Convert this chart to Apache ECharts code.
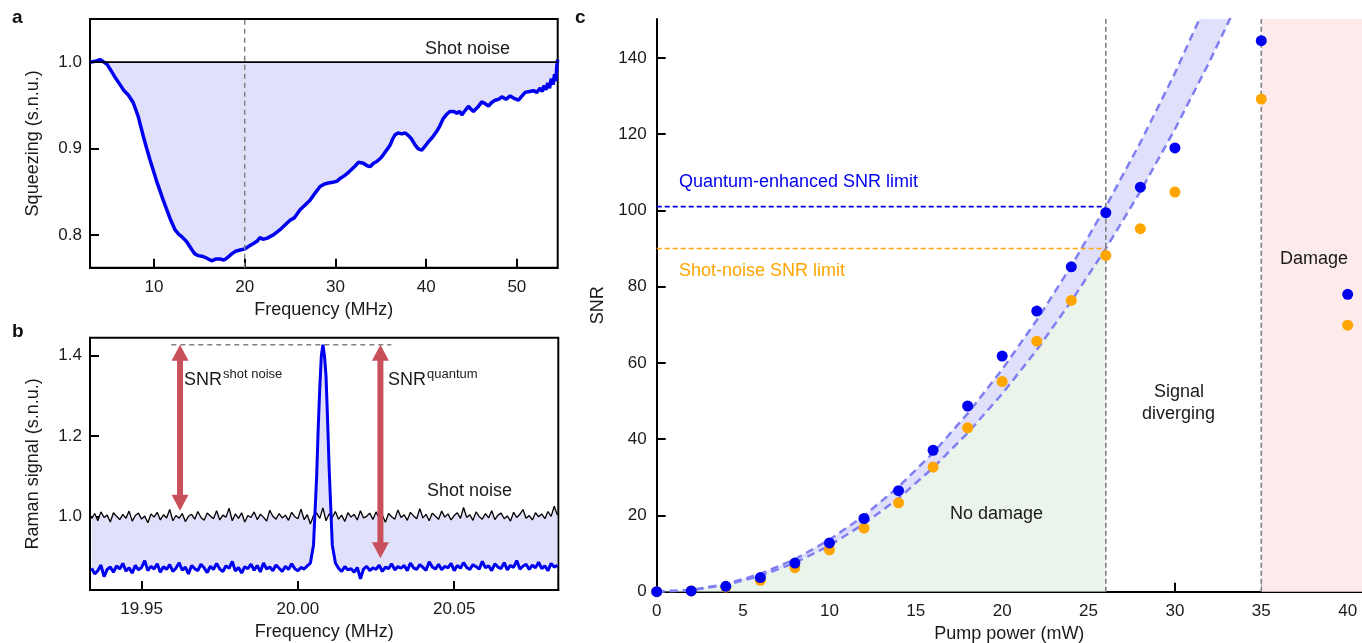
<!DOCTYPE html>
<html>
<head>
<meta charset="utf-8">
<script src="https://cdn.jsdelivr.net/npm/echarts@6/dist/echarts.min.js"></script>
<style>
  html, body { margin: 0; padding: 0; background: #fff; }
  #chart { width: 1362px; height: 643px; }
</style>
</head>
<body>
<div id="chart"></div>
<script>
// ---------- Panel a: squeezing spectrum ----------
const sqzFreq = [2.95,3.5,4.05,4.5,4.8,5.34,5.8,6.26,6.7,7.17,7.72,8.27,8.83,9.2,9.56,10.3,11.03,11.77,12.32,12.7,
  13.06,13.61,14.16,14.5,14.89,15.4,15.82,16.36,16.8,17.28,17.7,18.02,18.57,19.0,19.3,19.7,20.04,20.5,20.96,21.4,
  21.69,22.0,22.43,23.16,23.9,24.5,25.0,25.5,26.1,26.6,27.2,27.8,28.31,28.8,29.22,29.7,30.15,30.6,31.06,31.5,
  31.8,32.2,32.53,33.08,33.5,33.82,34.2,34.56,35.0,35.29,35.7,36.03,36.3,36.58,36.9,37.32,37.7,38.05,38.4,38.79,
  39.1,39.52,39.9,40.26,40.7,41.17,41.5,41.9,42.3,42.64,43.0,43.38,43.7,43.93,44.3,44.66,44.9,45.21,45.7,46.13,
  46.5,46.87,47.2,47.6,48.0,48.34,48.8,49.26,49.7,50.18,50.5,50.91,51.4,51.83,52.2,52.57,52.8,53.0,53.2,53.4,
  53.6,53.8,54.0,54.15,54.3,54.4,54.5];
const sqzVal = [1.000,1.001,1.003,1.000,0.998,0.989,0.981,0.974,0.967,0.962,0.953,0.937,0.914,0.900,0.887,0.862,0.840,0.819,0.806,0.801,
  0.798,0.792,0.783,0.778,0.776,0.775,0.773,0.770,0.772,0.772,0.771,0.773,0.778,0.781,0.782,0.783,0.784,0.787,0.790,0.793,
  0.797,0.795,0.796,0.800,0.806,0.812,0.817,0.820,0.829,0.834,0.840,0.849,0.856,0.859,0.860,0.861,0.862,0.866,0.869,0.873,
  0.876,0.880,0.884,0.883,0.880,0.879,0.883,0.885,0.889,0.893,0.899,0.904,0.911,0.916,0.918,0.917,0.918,0.915,0.911,0.904,
  0.900,0.898,0.903,0.908,0.913,0.920,0.926,0.935,0.940,0.943,0.943,0.941,0.943,0.939,0.944,0.949,0.946,0.943,0.948,0.954,
  0.952,0.949,0.953,0.956,0.957,0.960,0.957,0.961,0.958,0.956,0.960,0.965,0.966,0.967,0.965,0.970,0.966,0.973,0.968,0.976,
  0.970,0.981,0.974,0.986,0.978,0.995,1.003];
const sqzMarkerFreq = 20;
const shotNoiseLevel = 1.0;
const sqzTicksX = [10, 20, 30, 40, 50];
const sqzTicksY = [0.8, 0.9, 1.0];

// ---------- Panel b: Raman spectra ----------
const ramanStart = 19.934;   // MHz, first sample
const ramanStep = 0.001;     // MHz between samples
const shotNoiseTrace = [
  0.995,1.008,0.990,1.012,0.998,1.004,0.987,1.010,1.001,0.993,
  1.006,0.996,1.014,0.989,1.003,1.009,0.994,1.002,0.985,1.007,
  0.999,1.011,0.992,1.005,0.997,1.018,0.990,1.003,0.996,1.008,
  0.988,1.001,1.006,0.994,1.013,0.998,0.991,1.009,1.002,0.995,
  1.015,0.992,1.004,0.999,1.021,0.990,1.007,0.996,1.010,0.987,
  1.003,0.998,1.012,0.993,1.006,0.999,0.989,1.016,1.001,0.994,
  1.008,0.997,1.004,0.991,1.011,1.000,0.995,1.019,0.993,1.005,
  0.982,1.003,1.009,0.996,1.022,0.990,1.007,0.998,1.013,0.994,
  1.004,0.988,1.010,0.999,1.006,0.992,1.015,0.997,1.001,1.009,
  0.993,1.012,0.996,1.004,0.986,1.008,1.000,0.994,1.017,0.998,
  1.005,0.991,1.011,1.002,0.995,1.020,0.997,1.006,0.990,1.009,
  1.001,0.994,1.014,0.999,1.007,0.992,1.003,1.010,0.996,1.023,
  0.998,1.005,0.991,1.012,1.000,0.994,1.008,0.997,1.015,0.993,
  1.004,1.009,0.995,1.002,0.989,1.011,0.998,1.006,1.018,0.996,
  1.003,0.992,1.010,1.000,1.007,0.995,1.013,1.001,1.026,1.004];
const squeezedTrace = [
  0.872,0.858,0.866,0.880,0.851,0.869,0.875,0.862,0.878,0.870,
  0.884,0.865,0.873,0.860,0.879,0.868,0.874,0.891,0.866,0.877,
  0.870,0.883,0.862,0.876,0.869,0.881,0.864,0.872,0.886,0.867,
  0.875,0.858,0.879,0.871,0.866,0.882,0.873,0.861,0.877,0.869,
  0.884,0.870,0.864,0.878,0.872,0.889,0.865,0.874,0.860,0.876,
  0.871,0.882,0.867,0.879,0.863,0.885,0.870,0.875,0.866,0.880,
  0.872,0.864,0.877,0.869,0.883,0.871,0.866,0.874,0.870,0.878,
  0.885,0.930,1.100,1.320,1.427,1.350,1.120,0.930,0.885,0.872,
  0.864,0.876,0.868,0.871,0.862,0.874,0.846,0.870,0.877,0.866,
  0.873,0.869,0.880,0.864,0.875,0.871,0.883,0.868,0.876,0.872,
  0.879,0.866,0.885,0.873,0.869,0.881,0.874,0.867,0.888,0.875,
  0.870,0.882,0.868,0.877,0.873,0.884,0.866,0.879,0.872,0.886,
  0.874,0.869,0.881,0.876,0.870,0.889,0.873,0.878,0.866,0.883,
  0.875,0.871,0.886,0.868,0.879,0.874,0.891,0.870,0.877,0.882,
  0.869,0.880,0.873,0.887,0.871,0.878,0.866,0.884,0.875,0.879];
// extra samples across the Raman line
const peakFreq = [20.0065, 20.0075, 20.0085, 20.0095];
const peakVal  = [1.22, 1.40, 1.40, 1.24];
const ramanPeak = 1.427;
const ramanPeakSpan = [19.9595, 20.0299];
// double arrows: [frequency, top, bottom]
const snrArrows = [[19.9623, 1.427, 1.015], [20.0264, 1.427, 0.897]];
const ramanTicksX = [19.95, 20.00, 20.05];
const ramanTicksY = [1.0, 1.2, 1.4];

// ---------- Panel c: SNR vs pump power ----------
const pumpPower   = [0, 2, 4, 6, 8, 10, 12, 14, 16, 18, 20, 22, 24, 26, 28, 30, 35, 40];
const snrQuantum  = [0, 0.2, 1.4, 3.7, 7.5, 12.8, 19.2, 26.5, 37.1, 48.7, 61.8, 73.6, 85.2, 99.4, 106.1, 116.4, 144.5, 78.0];
const snrShot     = [0, 0.2, 1.2, 3.0, 6.3, 11.0, 16.7, 23.3, 32.7, 43.0, 55.1, 65.7, 76.4, 88.2, 95.2, 104.8, 129.2, 69.9];
const fitPower    = [0, 2, 4, 6, 8, 10, 12, 14, 16, 18, 20, 22, 24, 26, 28, 30, 32, 34];
const fitUpper    = [0, 0.46, 1.98, 4.66, 8.5, 13.6, 19.9, 27.5, 36.4, 46.7, 58.3, 71.2, 85.4, 101, 117.8, 136, 156, 177];
const fitLower    = [0, 0.41, 1.77, 4.15, 7.57, 12.1, 17.8, 24.5, 32.5, 41.6, 51.9, 63.4, 76.2, 90, 105, 121.3, 139, 158];
const quantumLimit = 101;
const shotLimit = 90;
const divergePower = 26;
const damagePower = 35;
const pumpTicks = [0, 5, 10, 15, 20, 25, 30, 35, 40];
const snrTicks = [0, 20, 40, 60, 80, 100, 120, 140];

// ---------- styling ----------
const FONT = '"Liberation Sans", Arial, Helvetica, sans-serif';
const INK = '#1a1a1a';
const BLUE = '#0000f0';
const ORANGE = '#ffa500';
const BAND = 'rgb(224,224,250)';
const FITLINE = '#7f7ff2';
const GREEN = 'rgb(234,244,234)';
const PINK = 'rgb(253,234,234)';
const GRAY = '#808080';
const ARROW = '#c8505a';

const pairs = (xs, ys) => xs.map((x, i) => [x, ys[i]]);
const sqzData = pairs(sqzFreq, sqzVal);
const ramanFreq = shotNoiseTrace.map((_, i) => +(ramanStart + i * ramanStep).toFixed(4));
const shotData = pairs(ramanFreq, shotNoiseTrace);
const squeezedData = pairs(ramanFreq, squeezedTrace)
  .concat(pairs(peakFreq, peakVal))
  .sort((p, q) => p[0] - q[0]);
const upperData = pairs(fitPower, fitUpper);
const lowerData = pairs(fitPower, fitLower);
const safeData = lowerData.filter(p => p[0] <= divergePower);

function valueAxis(opts) {
  const base = {
    type: 'value',
    scale: true,
    splitLine: { show: false },
    axisLine: { show: true, onZero: false, lineStyle: { color: '#000', width: 2 } },
    axisTick: { show: true, inside: true, length: 9, lineStyle: { color: '#000', width: 2 } },
    axisLabel: { color: INK, fontSize: 17, fontFamily: FONT, margin: 10 },
    nameTextStyle: { color: INK, fontSize: 18, fontFamily: FONT },
    nameLocation: 'middle'
  };
  return Object.assign(base, opts, {
    axisLabel: Object.assign({}, base.axisLabel, opts.axisLabel || {}),
    axisTick: Object.assign({}, base.axisTick, opts.axisTick || {})
  });
}

function label(text, left, top, size, color, weight) {
  return { type: 'text', left: left, top: top, z: 100,
    style: { text: text, font: (weight ? weight + ' ' : '') + size + 'px ' + FONT, fill: color } };
}

const chart = echarts.init(document.getElementById('chart'), null, { renderer: 'canvas' });

const option = {
  animation: false,
  backgroundColor: '#fff',
  grid: [
    { left: 90, top: 19, width: 467.7, height: 248.7, show: true, borderColor: '#000', borderWidth: 2,
      backgroundColor: 'transparent', outerBoundsMode: 'none' },
    { left: 90, top: 337.7, width: 468.3, height: 252.3, show: true, borderColor: '#000', borderWidth: 2,
      backgroundColor: 'transparent', outerBoundsMode: 'none' },
    { left: 656.7, top: 19, width: 705.3, height: 572.7, show: false, outerBoundsMode: 'none' }
  ],
  xAxis: [
    valueAxis({ gridIndex: 0, min: 2.95, max: 54.5, name: 'Frequency (MHz)', nameGap: 33,
      axisLabel: { customValues: sqzTicksX, margin: 11 }, axisTick: { customValues: sqzTicksX } }),
    valueAxis({ gridIndex: 1, min: 19.9335, max: 20.0833, name: 'Frequency (MHz)', nameGap: 33,
      axisLabel: { customValues: ramanTicksX, margin: 11, formatter: v => v.toFixed(2) }, axisTick: { customValues: ramanTicksX } }),
    valueAxis({ gridIndex: 2, min: 0, max: 40.83, name: 'Pump power (mW)', nameGap: 33,
      axisLabel: { customValues: pumpTicks, margin: 11 }, axisTick: { customValues: pumpTicks } }),
    { type: 'value', gridIndex: 2, position: 'top', min: 0, max: 40.83,
      axisLine: { show: true, lineStyle: { color: '#000', width: 2 } },
      axisTick: { show: false }, axisLabel: { show: false }, splitLine: { show: false } }
  ],
  yAxis: [
    valueAxis({ gridIndex: 0, min: 0.762, max: 1.05, name: 'Squeezing (s.n.u.)', nameGap: 48,
      axisLabel: { customValues: sqzTicksY, margin: 8, formatter: v => v.toFixed(1) }, axisTick: { customValues: sqzTicksY } }),
    valueAxis({ gridIndex: 1, min: 0.818, max: 1.4447, name: 'Raman signal (s.n.u.)', nameGap: 48,
      axisLabel: { customValues: ramanTicksY, margin: 8, formatter: v => v.toFixed(1) }, axisTick: { customValues: ramanTicksY } }),
    valueAxis({ gridIndex: 2, min: 0, max: 150.2, name: 'SNR', nameGap: 39,
      axisLabel: { customValues: snrTicks, margin: 10 }, axisTick: { customValues: snrTicks } })
  ],
  series: [
    // ----- a -----
    { type: 'line', xAxisIndex: 0, yAxisIndex: 0, data: sqzData, symbol: 'none', z: 3,
      lineStyle: { color: BLUE, width: 3.5 }, areaStyle: { color: BAND, opacity: 1, origin: shotNoiseLevel } },
    { type: 'line', xAxisIndex: 0, yAxisIndex: 0, symbol: 'none', z: 4,
      data: [[2.95, shotNoiseLevel], [54.5, shotNoiseLevel]], lineStyle: { color: '#000', width: 1.8 } },
    { type: 'line', xAxisIndex: 0, yAxisIndex: 0, symbol: 'none', z: 5,
      data: [[sqzMarkerFreq, 0.762], [sqzMarkerFreq, 1.05]], lineStyle: { color: GRAY, width: 1.5, type: [5, 4] } },

    // ----- b -----
    { type: 'custom', xAxisIndex: 1, yAxisIndex: 1, clip: true, silent: true, z: 1,
      data: [[20.0, 1.0]],
      renderItem: function (params, api) {
        const pts = squeezedData.map(p => api.coord(p))
          .concat(shotData.slice().reverse().map(p => api.coord(p)));
        return { type: 'polygon', shape: { points: pts }, style: { fill: BAND } };
      } },
    { type: 'line', xAxisIndex: 1, yAxisIndex: 1, data: shotData, symbol: 'none', z: 3,
      lineStyle: { color: '#000', width: 1.3 } },
    { type: 'line', xAxisIndex: 1, yAxisIndex: 1, data: squeezedData, symbol: 'none', z: 4,
      lineStyle: { color: BLUE, width: 3 } },
    { type: 'line', xAxisIndex: 1, yAxisIndex: 1, symbol: 'none', z: 2,
      data: [[ramanPeakSpan[0], ramanPeak], [ramanPeakSpan[1], ramanPeak]],
      lineStyle: { color: GRAY, width: 1.5, type: [5, 4] } },
    { type: 'custom', xAxisIndex: 1, yAxisIndex: 1, silent: true, z: 6,
      data: snrArrows, encode: { x: 0, y: [1, 2] },
      renderItem: function (params, api) {
        const top = api.coord([api.value(0), api.value(1)]);
        const bot = api.coord([api.value(0), api.value(2)]);
        const x = top[0], hw = 8.5, hh = 16, sw = 3;
        return { type: 'group', children: [
          { type: 'rect', shape: { x: x - sw, y: top[1] + hh - 1, width: 2 * sw, height: bot[1] - top[1] - 2 * hh + 2 },
            style: { fill: ARROW } },
          { type: 'polygon', shape: { points: [[x, top[1]], [x - hw, top[1] + hh], [x + hw, top[1] + hh]] },
            style: { fill: ARROW } },
          { type: 'polygon', shape: { points: [[x, bot[1]], [x - hw, bot[1] - hh], [x + hw, bot[1] - hh]] },
            style: { fill: ARROW } }
        ] };
      } },

    // ----- c -----
    { type: 'line', xAxisIndex: 2, yAxisIndex: 2, symbol: 'none', z: 1, data: safeData,
      lineStyle: { width: 0 }, areaStyle: { color: GREEN, opacity: 1 } },
    { type: 'custom', xAxisIndex: 2, yAxisIndex: 2, clip: true, silent: true, z: 2,
      data: [[10, 10]],
      renderItem: function (params, api) {
        const pts = upperData.map(p => api.coord(p))
          .concat(lowerData.slice().reverse().map(p => api.coord(p)));
        return { type: 'polygon', shape: { points: pts }, style: { fill: BAND } };
      } },
    { type: 'line', xAxisIndex: 2, yAxisIndex: 2, symbol: 'none', z: 3, data: upperData,
      lineStyle: { color: FITLINE, width: 2.5, type: [8, 5] } },
    { type: 'line', xAxisIndex: 2, yAxisIndex: 2, symbol: 'none', z: 3, data: lowerData,
      lineStyle: { color: FITLINE, width: 2.5, type: [8, 5] } },
    { type: 'line', xAxisIndex: 2, yAxisIndex: 2, symbol: 'none', z: 4,
      data: [[0, quantumLimit], [divergePower, quantumLimit]], lineStyle: { color: BLUE, width: 1.6, type: [5, 3] } },
    { type: 'line', xAxisIndex: 2, yAxisIndex: 2, symbol: 'none', z: 4,
      data: [[0, shotLimit], [divergePower, shotLimit]], lineStyle: { color: ORANGE, width: 1.6, type: [5, 3] } },
    { type: 'line', xAxisIndex: 2, yAxisIndex: 2, symbol: 'none', z: 4,
      data: [[divergePower, 0], [divergePower, 150.2]], lineStyle: { color: GRAY, width: 1.6, type: [5, 3] },
      markArea: { silent: true, itemStyle: { color: PINK }, data: [[{ xAxis: damagePower }, { xAxis: 40.83 }]] } },
    { type: 'line', xAxisIndex: 2, yAxisIndex: 2, symbol: 'none', z: 4,
      data: [[damagePower, 0], [damagePower, 150.2]], lineStyle: { color: GRAY, width: 1.6, type: [5, 3] } },
    { type: 'scatter', xAxisIndex: 2, yAxisIndex: 2, z: 6, symbolSize: 11,
      data: pairs(pumpPower, snrShot), itemStyle: { color: ORANGE, opacity: 1 } },
    { type: 'scatter', xAxisIndex: 2, yAxisIndex: 2, z: 7, symbolSize: 11,
      data: pairs(pumpPower, snrQuantum), itemStyle: { color: BLUE, opacity: 1 } }
  ],
  graphic: [
    label('a', 12, 8, 19, '#111', 'bold'),
    label('b', 12, 322, 19, '#111', 'bold'),
    label('c', 575, 8, 19, '#111', 'bold'),

    label('Shot noise', 425, 40, 18, INK),

    label('SNR', 184, 371, 18, INK),
    label('shot noise', 223, 368, 13, INK),
    label('SNR', 388, 371, 18, INK),
    label('quantum', 427, 368, 13, INK),
    label('Shot noise', 427, 482, 18, INK),

    label('Quantum-enhanced SNR limit', 679, 173, 18, BLUE),
    label('Shot-noise SNR limit', 679, 262, 18, ORANGE),
    label('No damage', 950, 505, 18, INK),
    label('Signal', 1154, 383, 18, INK),
    label('diverging', 1142, 405, 18, INK),
    label('Damage', 1280, 250, 18, INK)
  ]
};

chart.setOption(option);
</script>
</body>
</html>
